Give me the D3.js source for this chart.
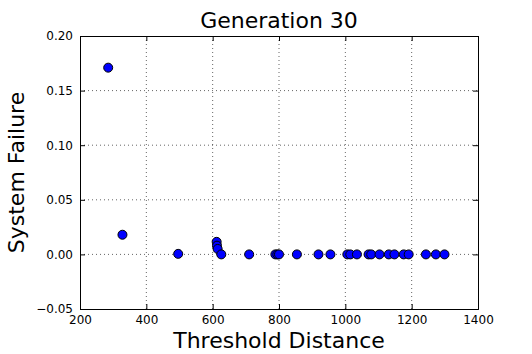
<!DOCTYPE html>
<html>
<head>
<meta charset="utf-8">
<script src="https://cdn.jsdelivr.net/npm/d3@7"></script>
<style>
  body { margin: 0; background: #fff; }
  text { font-family: "DejaVu Sans", sans-serif; }
</style>
</head>
<body>
<div id="chart"></div>
<script>
// data
var thresholdDistance = [285, 328, 496, 612, 613, 615, 626, 710, 789, 795, 800, 854, 919, 955,
  1006, 1015, 1035, 1070, 1078, 1103, 1131, 1148, 1176, 1191, 1243, 1273, 1299];
var systemFailure = [0.171, 0.018, 0.0005, 0.0115, 0.008, 0.005, 0.0, 0.0, 0.0, 0.0, 0.0, 0.0, 0.0, 0.0,
  0.0, 0.0, 0.0, 0.0, 0.0, 0.0, 0.0, 0.0, 0.0, 0.0, 0.0, 0.0, 0.0];
var xTicks = [200, 400, 600, 800, 1000, 1200, 1400];
var yTicks = [-0.05, 0.00, 0.05, 0.10, 0.15, 0.20];

var margin = {top: 36, right: 54, bottom: 45, left: 80},
    width = 532 - margin.left - margin.right,
    height = 354 - margin.top - margin.bottom;

var svg = d3.select("#chart")
  .append("svg")
    .attr("width", 532)
    .attr("height", 354)
  .append("g")
    .attr("transform", "translate(" + margin.left + "," + margin.top + ")");

var x = d3.scaleLinear().domain([200, 1400]).range([0, width]);
var y = d3.scaleLinear().domain([-0.05, 0.20]).range([height, 0]);

// dotted grid
svg.append("g").selectAll("line.gx")
  .data(xTicks.slice(1, -1))
  .enter().append("line")
    .attr("x1", function(d) { return x(d); })
    .attr("x2", function(d) { return x(d); })
    .attr("y1", 0).attr("y2", height)
    .attr("stroke", "#000").attr("stroke-width", 1)
    .attr("stroke-dasharray", "1,3").attr("opacity", 0.6);
svg.append("g").selectAll("line.gy")
  .data(yTicks.slice(1, -1))
  .enter().append("line")
    .attr("y1", function(d) { return y(d); })
    .attr("y2", function(d) { return y(d); })
    .attr("x1", 0).attr("x2", width)
    .attr("stroke", "#000").attr("stroke-width", 1)
    .attr("stroke-dasharray", "1,3").attr("opacity", 0.6);

var fmtY = function(d) { return d3.format(".2f")(d).replace("-", "\u2212"); };

// axes, ticks pointing inward on all sides
var axB = svg.append("g").attr("transform", "translate(0," + height + ")")
  .call(d3.axisBottom(x).tickValues(xTicks).tickSize(-5).tickPadding(6).tickFormat(d3.format("d")));
var axT = svg.append("g")
  .call(d3.axisTop(x).tickValues(xTicks).tickSize(-5).tickFormat(""));
var axL = svg.append("g")
  .call(d3.axisLeft(y).tickValues(yTicks).tickSize(-5).tickPadding(7).tickFormat(fmtY));
var axR = svg.append("g").attr("transform", "translate(" + width + ",0)")
  .call(d3.axisRight(y).tickValues(yTicks).tickSize(-5).tickFormat(""));

[axB, axT, axL, axR].forEach(function(a) {
  a.select(".domain").attr("stroke", "#000").attr("stroke-width", 1);
  a.selectAll("line").attr("stroke", "#000");
  a.selectAll("text").attr("fill", "#000").style("font-size", "12px")
    .style("font-family", "DejaVu Sans, sans-serif");
});

// points
svg.selectAll("circle")
  .data(thresholdDistance)
  .enter()
  .append("circle")
    .attr("cx", function(d) { return x(d); })
    .attr("cy", function(d, i) { return y(systemFailure[i]); })
    .attr("r", 4.5)
    .attr("fill", "#0000ff")
    .attr("stroke", "#000")
    .attr("stroke-width", 1);

// labels
svg.append("text")
  .attr("x", width / 2).attr("y", -8)
  .attr("text-anchor", "middle")
  .style("font-size", "22px")
  .text("Generation 30");

svg.append("text")
  .attr("x", width / 2).attr("y", height + 39)
  .attr("text-anchor", "middle")
  .style("font-size", "22px")
  .text("Threshold Distance");

svg.append("text")
  .attr("transform", "translate(-56," + (height / 2) + ")rotate(-90)")
  .attr("text-anchor", "middle")
  .style("font-size", "22px")
  .text("System Failure");
</script>
</body>
</html>
